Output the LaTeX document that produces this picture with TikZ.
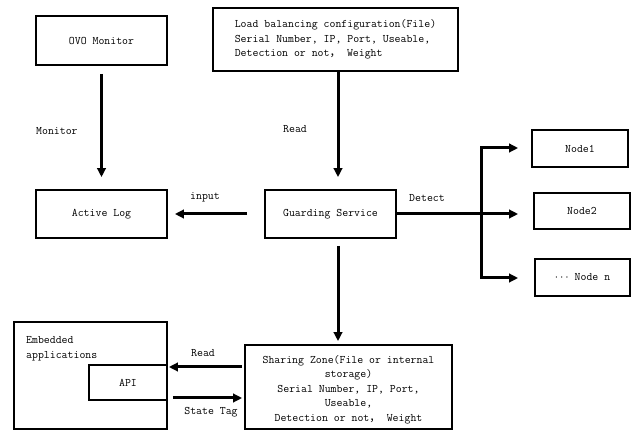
\documentclass[tikz,border=0pt]{standalone}
\usepackage{fontspec}
\newfontfamily\cjk{Noto Sans CJK SC}
\usetikzlibrary{arrows.meta}
\tikzset{
  every node/.style={font=\ttfamily\fontsize{11.5}{14.5}\selectfont, inner sep=0pt},
  box/.style={draw, line width=1.8pt, rectangle, align=center},
  flow/.style={line width=3pt, -{Triangle[length=9pt,width=8.5pt]}},
  trunk/.style={line width=3pt}
}
\begin{document}
\begin{tikzpicture}[x=1pt,y=-1pt]
\useasboundingbox (0,0) rectangle (635,430);

% boxes
\node[box, minimum width=131pt, minimum height=49pt] (ovo) at (101.5,40.5) {OVO Monitor};
\node[box, minimum width=245pt, minimum height=63pt] (load) at (335.5,39.5) {};
\node[align=left] (loadtxt) at (load.center) {Load balancing configuration(File)\\Serial Number, IP, Port, Useable,\\Detection or not{\cjk ，} Weight};
\node[box, minimum width=131pt, minimum height=48pt] (log) at (101.5,214) {Active Log};
\node[box, minimum width=131pt, minimum height=48pt] (guard) at (330.5,214) {Guarding Service};
\node[box, minimum width=96pt, minimum height=37pt] (n1) at (580,148.5) {Node1};
\node[box, minimum width=96pt, minimum height=36pt] (n2) at (582,211) {Node2};
\node[box, minimum width=95pt, minimum height=37pt] (nn) at (582.5,277.5) {$\cdots$ Node n};
\node[box, minimum width=207pt, minimum height=84pt] (share) at (348.5,387) {};
\node[align=center] (sharetxt) at (348.5,389.5) {Sharing Zone(File or internal\\storage)\\Serial Number, IP, Port,\\Useable,\\Detection or not{\cjk ，} Weight};
\node[box, minimum width=153pt, minimum height=107pt] (emb) at (90.5,375.5) {};
\node[align=left, anchor=west] (embtxt) at (26,349) {Embedded\\applications};
\node[box, minimum width=78pt, minimum height=35pt] (api) at (128,382.5) {API};

% monitor link
\draw[flow, shorten <=8pt, shorten >=12pt] (ovo.south) -- (log.north);
\node[anchor=west] (lmon) at (36,131) {Monitor};

% configuration read
\draw[flow, shorten >=12pt] (load.south -| 338,0) -- (guard.north -| 338,0);
\node (lread) at (295,129) {Read};

% log input
\draw[flow, shorten <=17pt, shorten >=7pt] (guard.west) -- (log.east);
\node (linput) at (205,197) {input};

% detection fan-out
\coordinate (br) at (481,214);
\coordinate (brtop) at (481,148);
\coordinate (brbot) at (481,278);
\draw[trunk] (guard.east) -- (br);
\draw[trunk, line cap=rect] (brtop) -- (brbot);
\draw[flow, shorten >=13pt] (brtop) -- (n1.west |- brtop);
\draw[flow, shorten >=15pt] (br) -- (n2.west |- br);
\draw[flow, shorten >=16pt] (brbot) -- (nn.west |- brbot);
\node (ldet) at (427,198) {Detect};

% shared zone
\draw[flow, shorten <=7pt, shorten >=3pt] (guard.south -| 338,0) -- (share.north -| 338,0);

% api exchange
\draw[flow, shorten <=2pt, shorten >=1pt] (share.west |- 0,367) -- (api.east |- 0,367);
\node (lread2) at (203,353) {Read};
\draw[flow, shorten <=5pt, shorten >=2pt] (api.east |- 0,398) -- (share.west |- 0,398);
\node (ltag) at (211,412) {State Tag};
\end{tikzpicture}
\end{document}
